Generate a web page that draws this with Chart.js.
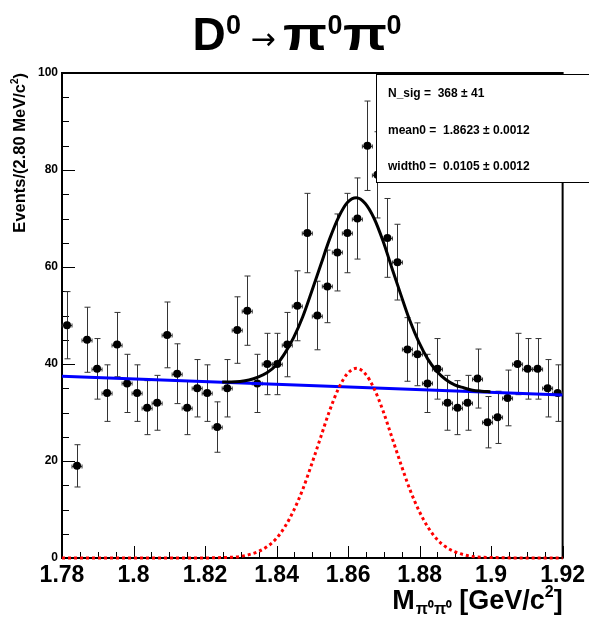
<!DOCTYPE html>
<html lang="en">
<head>
<meta charset="UTF-8">
<title>D0 to pi0 pi0 mass fit</title>
<script src="https://cdn.jsdelivr.net/npm/chart.js@4.4.0/dist/chart.umd.min.js"></script>
<style>
  html, body { margin: 0; padding: 0; background: #fff; }
</style>
</head>
<body>
<canvas id="chart" width="589" height="619"></canvas>
<script>
// histogram: M(pi0 pi0), 50 bins of 2.8 MeV between 1.78 and 1.92
const binCenters = [
  1.7814, 1.7842, 1.7870, 1.7898, 1.7926, 1.7954, 1.7982, 1.8010, 1.8038, 1.8066,
  1.8094, 1.8122, 1.8150, 1.8178, 1.8206, 1.8234, 1.8262, 1.8290, 1.8318, 1.8346,
  1.8374, 1.8402, 1.8430, 1.8458, 1.8486, 1.8514, 1.8542, 1.8570, 1.8598, 1.8626,
  1.8654, 1.8682, 1.8710, 1.8738, 1.8766, 1.8794, 1.8822, 1.8850, 1.8878, 1.8906,
  1.8934, 1.8962, 1.8990, 1.9018, 1.9046, 1.9074, 1.9102, 1.9130, 1.9158, 1.9186
];
const events = [
  48, 19, 45, 39, 34, 44, 36, 34, 31, 32,
  46, 38, 31, 35, 34, 27, 35, 47, 51, 36,
  40, 40, 44, 52, 67, 50, 56, 63, 67, 70,
  85, 79, 66, 61, 43, 42, 36, 39, 32, 31,
  32, 37, 28, 29, 33, 40, 39, 39, 35, 34
];
const binWidth = 0.0028;

// fit curves
const sigMass = [
  1.7800, 1.8000, 1.8200, 1.8248, 1.8273, 1.8298, 1.8323, 1.8348, 1.8373, 1.8398,
  1.8423, 1.8448, 1.8473, 1.8498, 1.8523, 1.8548, 1.8573, 1.8598, 1.8623, 1.8648,
  1.8673, 1.8698, 1.8723, 1.8748, 1.8773, 1.8798, 1.8823, 1.8848, 1.8873, 1.8898,
  1.8923, 1.8948, 1.8973, 1.8998, 1.9100, 1.9200
];
const sigCurve = [
  0, 0, 0, 0.1, 0.15, 0.3, 0.7, 1.3, 2.3, 3.9,
  6.4, 9.8, 14.1, 19.3, 24.8, 30.3, 34.9, 38.0, 39.1, 38.0,
  34.9, 30.3, 24.8, 19.3, 14.1, 9.8, 6.4, 3.9, 2.3, 1.3,
  0.7, 0.3, 0.15, 0.1, 0, 0
];
const totMass = sigMass.slice(3, 34);
const totCurve = [
  36.3, 36.3, 36.4, 36.7, 37.3, 38.2, 39.7, 42.2, 45.5, 49.7,
  54.9, 60.3, 65.7, 70.2, 73.3, 74.3, 73.1, 70.0, 65.3, 59.7,
  54.2, 48.9, 44.5, 41.0, 38.5, 36.8, 35.7, 35.1, 34.6, 34.4, 34.3
];
const bkgMass = [1.78, 1.92];
const bkgCurve = [37.5, 33.6];

const xTickLabels = [1.78, 1.8, 1.82, 1.84, 1.86, 1.88, 1.9, 1.92];
const yTickLabels = [0, 20, 40, 60, 80, 100];
const fitResults = [
  'N_sig =  368 \u00b1 41',
  'mean0 =  1.8623 \u00b1 0.0012',
  'width0 =  0.0105 \u00b1 0.0012'
];

const FONT = "'Liberation Sans', Arial, Helvetica, sans-serif";

function pairs(xs, ys) {
  return xs.map((x, i) => ({ x: x, y: ys[i] }));
}

// draw a row of text pieces, each with its own font and vertical shift
function drawPieces(ctx, pieces, xStart, baseline) {
  let x = xStart;
  pieces.forEach(p => {
    ctx.font = p.font;
    ctx.fillText(p.t, x, baseline + (p.dy || 0));
    x += ctx.measureText(p.t).width + (p.gap || 0);
  });
}
function piecesWidth(ctx, pieces) {
  let w = 0;
  pieces.forEach(p => { ctx.font = p.font; w += ctx.measureText(p.t).width + (p.gap || 0); });
  return w;
}

const rootStyle = {
  id: 'rootStyle',
  beforeDatasetsDraw(chart) {
    const { ctx, chartArea: a, scales: { x, y } } = chart;
    ctx.save();
    ctx.strokeStyle = '#000';

    // ticks, pointing into the frame
    ctx.lineWidth = 1;
    ctx.beginPath();
    for (let k = 0; k <= 28; k++) {
      const px = Math.round(x.getPixelForValue(1.78 + k * 0.005)) + 0.5;
      const len = (k % 4 === 0) ? 12 : 6;
      ctx.moveTo(px, a.bottom); ctx.lineTo(px, a.bottom - len);
    }
    for (let k = 0; k <= 20; k++) {
      const py = Math.round(y.getPixelForValue(k * 5)) + 0.5;
      const len = (k % 4 === 0) ? 13 : 7;
      ctx.moveTo(a.left, py); ctx.lineTo(a.left + len, py);
    }
    ctx.stroke();

    // frame
    ctx.lineWidth = 2;
    ctx.strokeRect(a.left, a.top, a.right - a.left, a.bottom - a.top);

    // error bars
    ctx.lineWidth = 1;
    ctx.strokeStyle = '#333';
    ctx.beginPath();
    binCenters.forEach((m, i) => {
      const n = events[i];
      const e = Math.sqrt(n);
      const px = Math.round(x.getPixelForValue(m)) + 0.5;
      const py = Math.round(y.getPixelForValue(n)) + 0.5;
      const yt = y.getPixelForValue(n + e);
      const yb = y.getPixelForValue(n - e);
      const xl = x.getPixelForValue(m - binWidth / 2);
      const xr = x.getPixelForValue(m + binWidth / 2);
      ctx.moveTo(px, yt); ctx.lineTo(px, yb);
      ctx.moveTo(px - 3, yt); ctx.lineTo(px + 3, yt);
      ctx.moveTo(px - 3, yb); ctx.lineTo(px + 3, yb);
      ctx.moveTo(xl, py); ctx.lineTo(xr, py);
      ctx.moveTo(xl, py - 2); ctx.lineTo(xl, py + 2);
      ctx.moveTo(xr, py - 2); ctx.lineTo(xr, py + 2);
    });
    ctx.stroke();
    ctx.restore();
  },
  afterDraw(chart) {
    const { ctx, chartArea: a } = chart;
    ctx.save();
    ctx.fillStyle = '#000';
    ctx.textAlign = 'left';
    ctx.textBaseline = 'alphabetic';

    // fit result box
    ctx.fillStyle = '#fff';
    ctx.fillRect(376, 74, 230, 109);
    ctx.strokeStyle = '#000';
    ctx.lineWidth = 1;
    ctx.strokeRect(376.5, 74.5, 230, 108);
    ctx.fillStyle = '#000';
    ctx.font = 'bold 12px ' + FONT;
    fitResults.forEach((s, i) => ctx.fillText(s, 388, 97 + i * 36.5));

    // title D0 -> pi0 pi0
    const big = 'bold 46px ' + FONT;
    const sup = 'bold 27px ' + FONT;
    ctx.textAlign = 'center';
    ctx.font = big; ctx.fillText('D', 209, 50);
    ctx.font = sup; ctx.fillText('0', 233.5, 34);
    ctx.font = '30px ' + "'DejaVu Sans', sans-serif"; ctx.fillText('\u2192', 263, 49);
    ctx.font = big;
    ctx.save(); ctx.translate(305, 50); ctx.scale(1.25, 1); ctx.fillText('\u03c0', 0, 0); ctx.restore();
    ctx.font = sup; ctx.fillText('0', 335, 34);
    ctx.font = big;
    ctx.save(); ctx.translate(365, 50); ctx.scale(1.25, 1); ctx.fillText('\u03c0', 0, 0); ctx.restore();
    ctx.font = sup; ctx.fillText('0', 394, 34);

    // x axis title
    ctx.textAlign = 'left';
    const xt = [
      { t: 'M', font: 'bold 27px ' + FONT, gap: 1 },
      { t: '\u03c0\u2070\u03c0\u2070', font: 'bold 16px ' + FONT, dy: 5, gap: 7 },
      { t: '[GeV/c', font: 'bold 27px ' + FONT },
      { t: '2', font: 'bold 16px ' + FONT, dy: -12 },
      { t: ']', font: 'bold 27px ' + FONT }
    ];
    drawPieces(ctx, xt, a.right - piecesWidth(ctx, xt), 609);

    // y axis title
    ctx.save();
    ctx.translate(25, a.top);
    ctx.rotate(-Math.PI / 2);
    const yt = [
      { t: 'Events/(2.80 MeV/c', font: 'bold 16.5px ' + FONT },
      { t: '2', font: 'bold 10px ' + FONT, dy: -7 },
      { t: ')', font: 'bold 16.5px ' + FONT }
    ];
    drawPieces(ctx, yt, -piecesWidth(ctx, yt), 0);
    ctx.restore();

    ctx.restore();
  }
};

const ctx = document.getElementById('chart').getContext('2d');
const chart = new Chart(ctx, {
  type: 'scatter',
  data: {
    datasets: [
      {
        label: 'data',
        data: pairs(binCenters, events),
        showLine: false,
        pointRadius: 4,
        pointBackgroundColor: '#000',
        pointBorderColor: '#000',
        pointBorderWidth: 0,
        order: 4
      },
      {
        label: 'background',
        data: pairs(bkgMass, bkgCurve),
        showLine: true,
        borderColor: '#0000ff',
        borderWidth: 3,
        pointRadius: 0,
        order: 3
      },
      {
        label: 'total',
        data: pairs(totMass, totCurve),
        showLine: true,
        borderColor: '#000',
        borderWidth: 3,
        pointRadius: 0,
        cubicInterpolationMode: 'monotone',
        order: 2
      },
      {
        label: 'signal',
        data: pairs(sigMass, sigCurve),
        showLine: true,
        borderColor: '#ff0000',
        borderWidth: 3,
        borderDash: [3, 3],
        pointRadius: 0,
        cubicInterpolationMode: 'monotone',
        clip: 4,
        order: 1
      }
    ]
  },
  options: {
    responsive: false,
    devicePixelRatio: 1,
    animation: false,
    events: [],
    layout: { padding: { left: 0, right: 26, top: 73, bottom: 0 } },
    plugins: {
      legend: { display: false },
      tooltip: { enabled: false },
      title: { display: false }
    },
    scales: {
      x: {
        type: 'linear',
        min: 1.78,
        max: 1.92,
        afterFit(scale) { scale.height = 61; },
        afterBuildTicks(scale) { scale.ticks = xTickLabels.map(v => ({ value: v })); },
        grid: { display: false, drawTicks: false },
        border: { display: false },
        ticks: {
          color: '#000',
          font: { family: FONT, weight: 'bold', size: 23 },
          padding: 4,
          maxRotation: 0,
          autoSkip: false,
          callback: v => String(v)
        }
      },
      y: {
        type: 'linear',
        min: 0,
        max: 100,
        afterFit(scale) { scale.width = 62; },
        afterBuildTicks(scale) { scale.ticks = yTickLabels.map(v => ({ value: v })); },
        grid: { display: false, drawTicks: false },
        border: { display: false },
        ticks: {
          color: '#000',
          font: { family: FONT, weight: 'bold', size: 12 },
          padding: 4
        }
      }
    }
  },
  plugins: [rootStyle]
});
</script>
</body>
</html>
